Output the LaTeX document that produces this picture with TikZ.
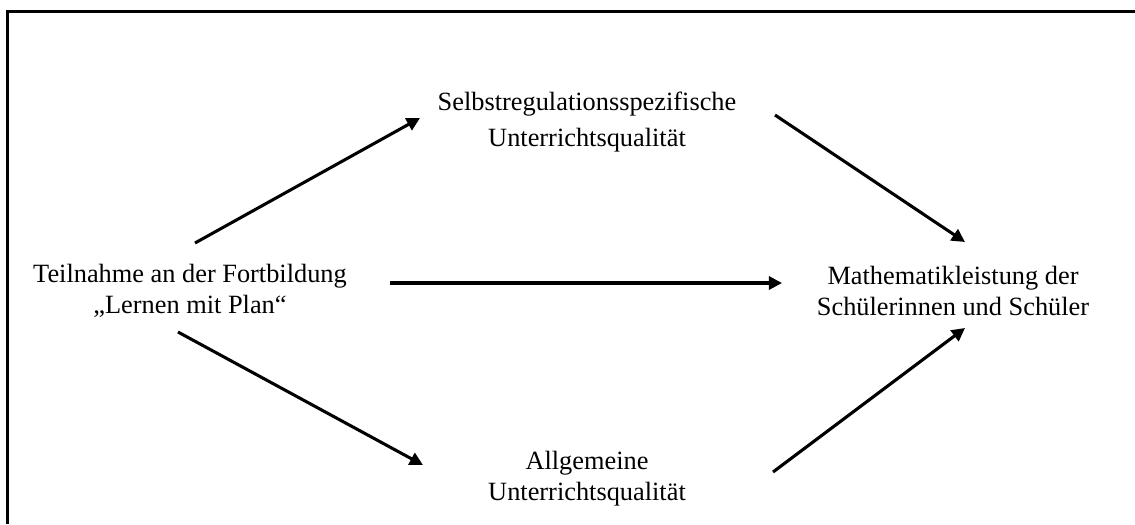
\documentclass[tikz,border=0pt]{standalone}
\usepackage{fontspec}
\setmainfont{Liberation Serif}
\usetikzlibrary{positioning,calc,arrows.meta}

\begin{document}
\begin{tikzpicture}[x=0.016cm,y=-0.016cm,
        txt/.style={align=center,inner sep=0pt,font=\fontsize{12}{14}\selectfont},
        pfeil/.style={-{Triangle[length=6pt,width=6pt]},line width=1.4pt}]
            \useasboundingbox (0,0) rectangle (1135,524);
            \draw[line width=1.2pt] (7.5,524) -- (7.5,11.5) -- (1135,11.5);

            \node[txt] (teil) at (190,291) {Teilnahme an der Fortbildung\\„Lernen mit Plan“};
            \node[txt] (selbst) at (587,122) {Selbstregulationsspezifische\\[2.3pt]Unterrichtsqualität};
            \node[txt] (allg) at (587,479) {Allgemeine\\Unterrichtsqualität};
            \node[txt] (mathe) at (953,291) {Mathematikleistung der\\Schülerinnen und Schüler};

            \draw[pfeil] ($(teil)+(5,-48)$) -- ($(selbst)+(-167,-4)$);
            \draw[pfeil] ($(selbst)+(188,-7)$) -- ($(mathe)+(12,-49)$);
            \draw[pfeil] ($(teil)+(200,-8)$) -- ($(mathe)+(-171,-8)$);
            \draw[pfeil] ($(teil)+(-12,41)$) -- ($(allg)+(-164,-14)$);
            \draw[pfeil] ($(allg)+(186,-7)$) -- ($(mathe)+(12,37)$);
        \end{tikzpicture}
\end{document}
